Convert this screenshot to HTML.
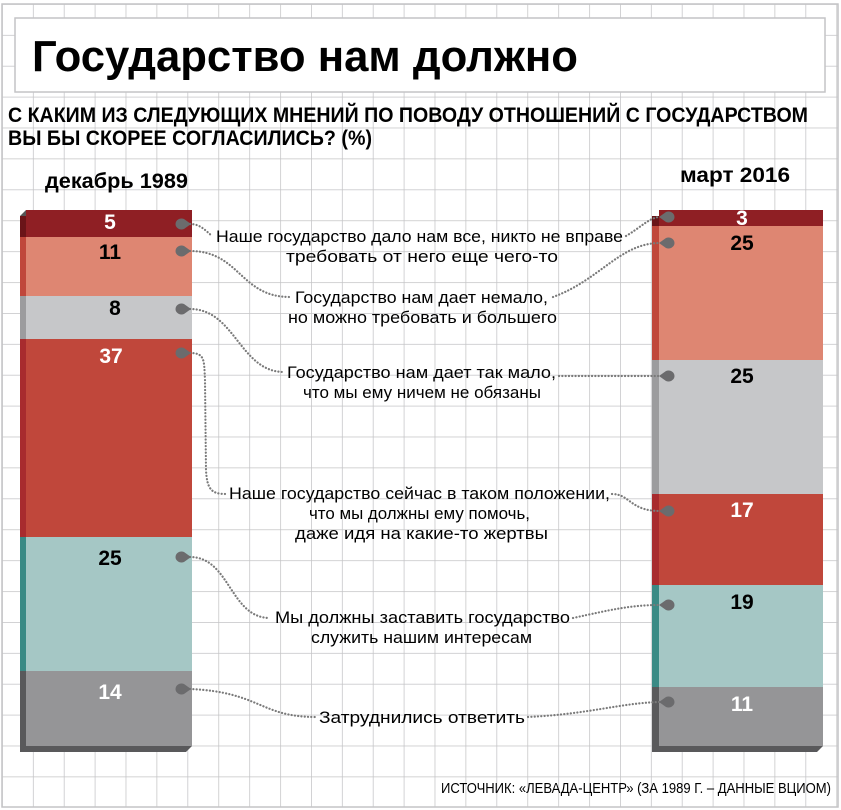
<!DOCTYPE html>
<html><head><meta charset="utf-8"><style>
html,body{margin:0;padding:0;background:#fff}
svg{display:block}
text{font-family:"Liberation Sans Narrow","Liberation Sans",sans-serif}
</style></head><body>
<svg width="841" height="810" viewBox="0 0 841 810" xmlns="http://www.w3.org/2000/svg">
<defs>
<pattern id="g" x="2" y="4" width="30.9" height="30.9" patternUnits="userSpaceOnUse">
<path d="M0 0H30.9M0 0V30.9" stroke="#c4c4c6" stroke-width="1.5" fill="none"/>
</pattern>
</defs>
<rect x="2" y="4" width="836" height="803" fill="url(#g)"/>
<rect x="2" y="4" width="836" height="803" fill="none" stroke="#c4c4c6" stroke-width="1.5"/>
<rect x="15" y="18" width="810" height="74" fill="#fff" stroke="#c4c4c6" stroke-width="1.5"/>
<text x="32" y="71" font-size="44" font-weight="bold" font-family="Liberation Sans" textLength="546" lengthAdjust="spacingAndGlyphs">Государство нам должно</text>
<text x="8" y="122" font-size="21" font-weight="bold" textLength="800" lengthAdjust="spacingAndGlyphs">С КАКИМ ИЗ СЛЕДУЮЩИХ МНЕНИЙ ПО ПОВОДУ ОТНОШЕНИЙ С ГОСУДАРСТВОМ</text>
<text x="8" y="145" font-size="21" font-weight="bold" textLength="364" lengthAdjust="spacingAndGlyphs">ВЫ БЫ СКОРЕЕ СОГЛАСИЛИСЬ? (%)</text>
<text x="45" y="188" font-size="21" font-weight="bold" textLength="143" lengthAdjust="spacingAndGlyphs">декабрь 1989</text>
<text x="680" y="182" font-size="21" font-weight="bold" textLength="110" lengthAdjust="spacingAndGlyphs">март 2016</text>

<g>
<polygon points="20,216 26,210 26,752 20,752" fill="#555"/>
<rect x="20" y="216" width="6" height="21" fill="#6a1418"/>
<rect x="20" y="237" width="6" height="59" fill="#c0473b"/>
<rect x="20" y="296" width="6" height="43" fill="#9c9c9e"/>
<rect x="20" y="339" width="6" height="198" fill="#a82b2e"/>
<rect x="20" y="537" width="6" height="134" fill="#3a8a85"/>
<rect x="20" y="671" width="6" height="81" fill="#59595b"/>
<rect x="26" y="210" width="166" height="27" fill="#8f1f24"/>
<rect x="26" y="237" width="166" height="59" fill="#de8672"/>
<rect x="26" y="296" width="166" height="43" fill="#c6c7c9"/>
<rect x="26" y="339" width="166" height="198" fill="#c0473b"/>
<rect x="26" y="537" width="166" height="134" fill="#a5c7c5"/>
<rect x="26" y="671" width="166" height="75" fill="#959597"/>
<polygon points="26,746 192,746 186,752 20,752" fill="#59595b"/>
</g>
<g>
<rect x="652" y="216" width="7" height="536" fill="#555"/>
<rect x="652" y="216" width="7" height="10" fill="#6a1418"/>
<rect x="652" y="226" width="7" height="134" fill="#c0473b"/>
<rect x="652" y="360" width="7" height="134" fill="#9c9c9e"/>
<rect x="652" y="494" width="7" height="91" fill="#a82b2e"/>
<rect x="652" y="585" width="7" height="102" fill="#3a8a85"/>
<rect x="652" y="687" width="7" height="65" fill="#59595b"/>
<rect x="659" y="210" width="164" height="16" fill="#8f1f24"/>
<rect x="659" y="226" width="164" height="134" fill="#de8672"/>
<rect x="659" y="360" width="164" height="134" fill="#c6c7c9"/>
<rect x="659" y="494" width="164" height="91" fill="#c0473b"/>
<rect x="659" y="585" width="164" height="102" fill="#a5c7c5"/>
<rect x="659" y="687" width="164" height="59" fill="#959597"/>
<polygon points="659,746 823,746 817,752 652,752" fill="#59595b"/>
</g>

<g font-size="21" font-weight="bold" text-anchor="middle" font-family="Liberation Sans">
<text x="110" y="229" fill="#fff">5</text>
<text x="110" y="259" fill="#000">11</text>
<text x="115" y="315" fill="#000">8</text>
<text x="111" y="363" fill="#fff">37</text>
<text x="110" y="565" fill="#000">25</text>
<text x="110" y="699" fill="#fff">14</text>
<text x="742" y="225" fill="#fff">3</text>
<text x="742" y="250" fill="#000">25</text>
<text x="742" y="383" fill="#000">25</text>
<text x="742" y="517" fill="#fff">17</text>
<text x="742" y="609" fill="#000">19</text>
<text x="742" y="711" fill="#fff">11</text>
</g>

<g fill="none" stroke="#7a7a7a" stroke-width="2.2" stroke-dasharray="0.1 3.2" stroke-linecap="round">
<path d="M190 224 C200 224 205 230 212 236"/>
<path d="M626 236 C640 228 650 217 660 217"/>
<path d="M190 251 C240 251 240 297 290 297"/>
<path d="M553 297 C600 280 620 243 660 243"/>
<path d="M190 309 C235 309 240 372 284 372"/>
<path d="M559 376 L660 376"/>
<path d="M190 353 C205 353 204 360 205 380 L206 470 C207 490 212 494 226 494"/>
<path d="M612 494 C630 494 630 511 660 511"/>
<path d="M190 557 C230 557 230 618 270 618"/>
<path d="M573 618 C610 610 630 605 660 605"/>
<path d="M190 689 C260 692 260 717 316 717"/>
<path d="M528 717 C590 714 620 703 660 702"/>
</g>
<g fill="#6b6b6d">
<path d="M191 224 L184 219 A6 5.5 0 1 0 184 229 Z"/>
<path d="M191 251 L184 246 A6 5.5 0 1 0 184 256 Z"/>
<path d="M191 309 L184 304 A6 5.5 0 1 0 184 314 Z"/>
<path d="M191 353 L184 348 A6 5.5 0 1 0 184 358 Z"/>
<path d="M191 557 L184 552 A6 5.5 0 1 0 184 562 Z"/>
<path d="M191 689 L184 684 A6 5.5 0 1 0 184 694 Z"/>
<path d="M659 217 L666 212 A6 5.5 0 1 1 666 222 Z"/>
<path d="M659 243 L666 238 A6 5.5 0 1 1 666 248 Z"/>
<path d="M659 376 L666 371 A6 5.5 0 1 1 666 381 Z"/>
<path d="M659 511 L666 506 A6 5.5 0 1 1 666 516 Z"/>
<path d="M659 605 L666 600 A6 5.5 0 1 1 666 610 Z"/>
<path d="M659 702 L666 697 A6 5.5 0 1 1 666 707 Z"/>
</g>

<g font-size="17" fill="#000">
<text x="216" y="242" textLength="407" lengthAdjust="spacingAndGlyphs">Наше государство дало нам все, никто не вправе</text>
<text x="286" y="262" textLength="272" lengthAdjust="spacingAndGlyphs">требовать от него еще чего-то</text>
<text x="295" y="303" textLength="253" lengthAdjust="spacingAndGlyphs">Государство нам дает немало,</text>
<text x="288" y="323" textLength="269" lengthAdjust="spacingAndGlyphs">но можно требовать и большего</text>
<text x="287" y="378" textLength="269" lengthAdjust="spacingAndGlyphs">Государство нам дает так мало,</text>
<text x="303" y="398" textLength="238" lengthAdjust="spacingAndGlyphs">что мы ему ничем не обязаны</text>
<text x="229" y="499" textLength="381" lengthAdjust="spacingAndGlyphs">Наше государство сейчас в таком положении,</text>
<text x="309" y="519" textLength="221" lengthAdjust="spacingAndGlyphs">что мы должны ему помочь,</text>
<text x="295" y="539" textLength="253" lengthAdjust="spacingAndGlyphs">даже идя на  какие-то жертвы</text>
<text x="275" y="623" textLength="295" lengthAdjust="spacingAndGlyphs">Мы должны заставить государство</text>
<text x="311" y="643" textLength="221" lengthAdjust="spacingAndGlyphs">служить нашим интересам</text>
<text x="319" y="723" textLength="206" lengthAdjust="spacingAndGlyphs">Затруднились ответить</text>
<text x="441" y="793" font-size="15" textLength="390" lengthAdjust="spacingAndGlyphs">ИСТОЧНИК: «ЛЕВАДА-ЦЕНТР» (ЗА 1989 Г. – ДАННЫЕ ВЦИОМ)</text>
</g>
</svg>
</body></html>
